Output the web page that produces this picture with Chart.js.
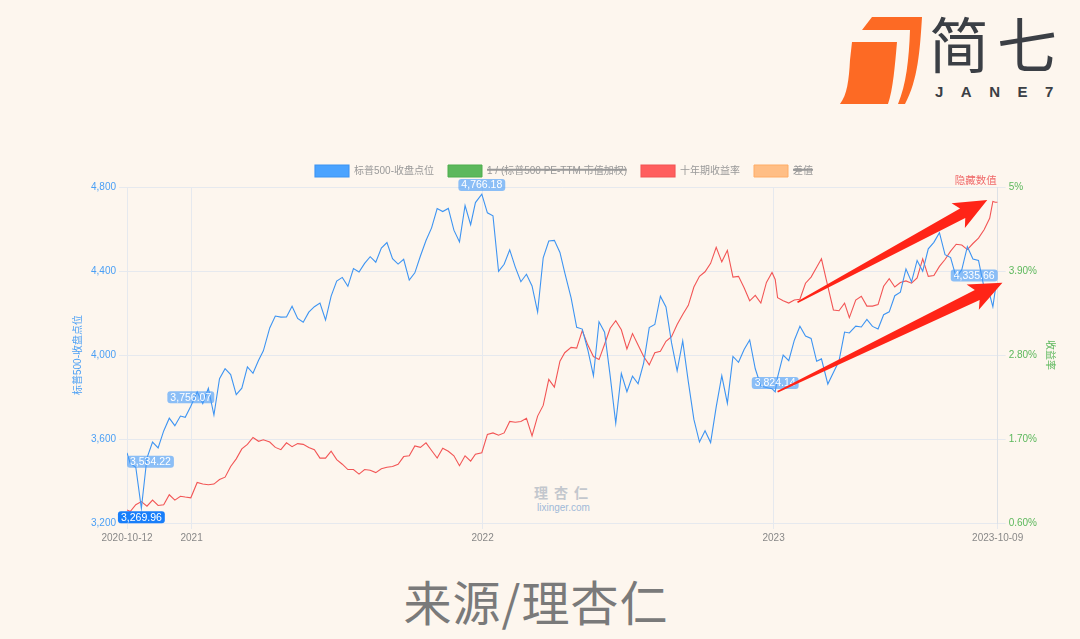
<!DOCTYPE html>
<html><head><meta charset="utf-8">
<script src="https://cdn.jsdelivr.net/npm/chart.js@4.4.0/dist/chart.umd.min.js"></script>
<style>
html,body{margin:0;padding:0;background:#fdf6ee;width:1080px;height:639px;overflow:hidden;}
#c{position:absolute;left:0;top:0;z-index:2;}
.abs{position:absolute;white-space:nowrap;}
#brand{left:929px;top:12px;font-family:'Noto Sans CJK SC',sans-serif;font-size:60px;line-height:60px;font-weight:400;color:#3b3f45;letter-spacing:8px;}
#brand2{left:935px;top:84px;font-family:'Liberation Sans',Arial,sans-serif;font-size:15px;line-height:15px;font-weight:700;color:#3b3f45;letter-spacing:17.5px;}
#wm1{left:534px;top:484px;font-family:'Noto Sans CJK SC',sans-serif;font-size:14px;line-height:16px;font-weight:700;color:#c3c7cd;letter-spacing:6px;z-index:1;}
#wm2{left:537px;top:503px;font-family:'Liberation Sans',Arial,sans-serif;font-size:10px;line-height:10px;color:#9fb9d8;z-index:1;}
#source{left:0;width:1072px;text-align:center;top:574px;font-family:'Noto Sans CJK SC',sans-serif;font-size:48px;line-height:52px;color:#7a7a7a;letter-spacing:1px;}
</style></head><body>
<svg class="abs" style="left:0;top:0" width="1080" height="639">
  <path d="M872 17 L922 17 C920 50 918 80 905 104 L898 104 C906 85 909 60 910 30 L862 30 Z" fill="#fd6a24"/>
  <path d="M852 42 L897 42 C895 65 893 90 888 104 L840 104 C847 95 849 80 850 60 Z" fill="#fd6a24"/>
</svg>
<div id="brand" class="abs">简七</div>
<div id="brand2" class="abs">JANE7</div>
<div id="wm1" class="abs">理杏仁</div>
<div id="wm2" class="abs">lixinger.com</div>
<div id="source" class="abs">来源/理杏仁</div>
<canvas id="c" width="1080" height="639"></canvas>
<script>
// ---------------- data ----------------
const dates = [
'2020-10-12','2020-10-16','2020-10-23','2020-10-30','2020-11-06','2020-11-13','2020-11-20','2020-11-27','2020-12-04','2020-12-11','2020-12-18','2020-12-24','2020-12-31',
'2021-01-08','2021-01-15','2021-01-22','2021-01-29','2021-02-05','2021-02-12','2021-02-19','2021-02-26','2021-03-05','2021-03-12','2021-03-19','2021-03-26',
'2021-04-01','2021-04-09','2021-04-16','2021-04-23','2021-04-30','2021-05-07','2021-05-14','2021-05-21','2021-05-28','2021-06-04','2021-06-11','2021-06-18','2021-06-25',
'2021-07-02','2021-07-09','2021-07-16','2021-07-23','2021-07-30','2021-08-06','2021-08-13','2021-08-20','2021-08-27','2021-09-03','2021-09-10','2021-09-17','2021-09-24',
'2021-10-01','2021-10-08','2021-10-15','2021-10-22','2021-10-29','2021-11-05','2021-11-12','2021-11-19','2021-11-26','2021-12-03','2021-12-10','2021-12-17','2021-12-23','2021-12-31',
'2022-01-07','2022-01-14','2022-01-21','2022-01-28','2022-02-04','2022-02-11','2022-02-18','2022-02-25','2022-03-04','2022-03-11','2022-03-18','2022-03-25',
'2022-04-01','2022-04-08','2022-04-14','2022-04-22','2022-04-29','2022-05-06','2022-05-13','2022-05-20','2022-05-27','2022-06-03','2022-06-10','2022-06-17','2022-06-24',
'2022-07-01','2022-07-08','2022-07-15','2022-07-22','2022-07-29','2022-08-05','2022-08-12','2022-08-19','2022-08-26','2022-09-02','2022-09-09','2022-09-16','2022-09-23','2022-09-30',
'2022-10-07','2022-10-14','2022-10-21','2022-10-28','2022-11-04','2022-11-11','2022-11-18','2022-11-25','2022-12-02','2022-12-09','2022-12-16','2022-12-23','2022-12-30',
'2023-01-03','2023-01-06','2023-01-13','2023-01-20','2023-01-27','2023-02-03','2023-02-10','2023-02-17','2023-02-24','2023-03-02','2023-03-10','2023-03-17','2023-03-24','2023-03-31',
'2023-04-06','2023-04-14','2023-04-21','2023-04-28','2023-05-05','2023-05-12','2023-05-19','2023-05-26','2023-06-02','2023-06-09','2023-06-16','2023-06-23','2023-06-30',
'2023-07-07','2023-07-14','2023-07-21','2023-07-28','2023-08-04','2023-08-11','2023-08-18','2023-08-25','2023-09-01','2023-09-08','2023-09-15','2023-09-22','2023-09-29',
'2023-10-03','2023-10-06','2023-10-09'
];
const spxClose = [
3534.22,3483.81,3465.39,3269.96,3509.44,3585.15,3557.54,3638.35,3699.12,3663.46,3709.41,3703.06,3756.07,
3824.68,3768.25,3841.47,3714.24,3886.83,3934.83,3906.71,3811.15,3841.94,3943.34,3913.10,3974.54,
4019.87,4128.80,4185.47,4180.17,4181.17,4232.60,4173.85,4155.86,4204.11,4229.89,4247.44,4166.45,4280.70,
4352.34,4369.55,4327.16,4411.79,4395.26,4436.52,4468.00,4441.67,4509.37,4535.43,4458.58,4432.99,4455.48,
4357.04,4391.34,4471.37,4544.90,4605.38,4697.53,4682.85,4697.96,4594.62,4538.43,4712.02,4620.64,4725.79,4766.18,
4677.03,4662.85,4397.94,4431.85,4500.53,4418.64,4348.87,4384.65,4328.87,4204.31,4463.12,4543.06,
4545.86,4488.28,4392.59,4271.78,4131.93,4123.34,4023.89,3901.36,4158.24,4108.54,3900.86,3674.84,3911.74,
3825.33,3899.38,3863.16,3961.63,4130.29,4145.19,4280.15,4228.48,4057.66,3924.26,4067.36,3873.33,3693.23,3585.62,
3639.66,3583.07,3752.75,3901.06,3770.55,3992.93,3965.34,4026.12,4071.70,3934.38,3852.36,3844.82,3839.50,
3824.14,3895.08,3999.09,3972.61,4070.56,4136.48,4090.46,4079.09,3970.04,3981.35,3861.59,3916.64,3970.99,4109.31,
4105.02,4137.64,4133.52,4169.48,4136.25,4124.08,4191.98,4205.45,4282.37,4298.86,4409.59,4348.33,4450.38,
4398.95,4505.42,4536.34,4582.23,4478.03,4464.05,4369.71,4405.71,4515.77,4457.49,4450.32,4320.06,4288.05,
4229.45,4308.50,4335.66
];
const tenYearYield = [
0.77,0.75,0.84,0.88,0.82,0.90,0.83,0.84,0.97,0.90,0.95,0.94,0.93,
1.13,1.11,1.10,1.11,1.17,1.20,1.34,1.44,1.57,1.63,1.72,1.67,
1.69,1.66,1.59,1.56,1.65,1.60,1.64,1.63,1.59,1.56,1.45,1.45,1.54,
1.43,1.37,1.30,1.30,1.24,1.30,1.29,1.26,1.31,1.33,1.34,1.37,1.47,
1.48,1.61,1.59,1.65,1.55,1.45,1.58,1.54,1.48,1.35,1.48,1.41,1.50,1.52,
1.76,1.78,1.75,1.78,1.93,1.92,1.93,1.97,1.74,2.00,2.14,2.48,
2.38,2.72,2.83,2.90,2.89,3.12,2.93,2.78,2.74,2.94,3.15,3.25,3.13,
2.88,3.08,2.93,2.78,2.67,2.83,2.85,2.98,3.04,3.20,3.33,3.45,3.69,3.83,
3.89,4.00,4.21,4.02,4.17,3.82,3.83,3.68,3.51,3.58,3.48,3.75,3.88,
3.79,3.55,3.51,3.48,3.52,3.53,3.74,3.82,3.95,4.06,3.70,3.39,3.38,3.48,
3.29,3.52,3.57,3.44,3.44,3.46,3.70,3.80,3.69,3.75,3.77,3.74,3.81,
4.06,3.83,3.84,3.96,4.05,4.16,4.25,4.24,4.18,4.26,4.33,4.44,4.59,
4.81,4.80,4.80
];
const seriesNames = ['标普500-收盘点位','1 / (标普500 PE-TTM 市值加权)','十年期收益率','差值'];
const tickDates = ['2020-10-12','2021-01-01','2022-01-01','2023-01-01','2023-10-09'];
const tickLabels = ['2020-10-12','2021','2022','2023','2023-10-09'];
const leftTicks = [3200,3600,4000,4400,4800];
const rightTicks = [0.6,1.7,2.8,3.9,5.0];
const markDates = ['2020-10-12','2020-10-30','2020-12-31','2021-12-31','2023-01-03','2023-10-09'];
const arrowPoints = [
  {from:['2023-01-31',3.49], to:['2023-09-26',4.83], axis:'yR'},
  {from:['2023-01-06',3825], to:['2023-10-15',4344], axis:'y'}
];

// ---------------- helpers / styles ----------------
const DAY = 86400000;
const t0 = Date.parse(dates[0]);
const dayOf = d => (Date.parse(d) - t0) / DAY;
const FONT = "'Liberation Sans', 'Noto Sans CJK SC', Arial, sans-serif";
const BLUE = '#3d94f2', RED = '#f25555', GREEN = '#5cb85c', ORANGE = '#ffbe85';
const GRID = '#e6e9ee';
const markStyle = {
  '2020-10-12': {pos:'below', solid:false, align:'start'},
  '2020-10-30': {pos:'below', solid:true, align:'center'},
  '2020-12-31': {pos:'above', solid:false, align:'center'},
  '2021-12-31': {pos:'above', solid:false, align:'center'},
  '2023-01-03': {pos:'above', solid:false, align:'center'},
  '2023-10-09': {pos:'above', solid:false, align:'end'}
};

const spxData = dates.map((d,i)=>({x:dayOf(d), y:spxClose[i]}));
const yieldData = dates.map((d,i)=>({x:dayOf(d), y:tenYearYield[i]}));

const markPlugin = {
  id:'marks',
  afterDatasetsDraw(chart){
    const {ctx} = chart;
    const xs = chart.scales.x, ys = chart.scales.y;
    ctx.save();
    ctx.font = '10.5px ' + FONT;
    ctx.textAlign = 'center'; ctx.textBaseline = 'middle';
    markDates.forEach(d=>{
      const i = dates.indexOf(d);
      const v = spxClose[i];
      const txt = v.toLocaleString('en-US',{minimumFractionDigits:2, maximumFractionDigits:2});
      const px = xs.getPixelForValue(dayOf(d)), py = ys.getPixelForValue(v);
      const st = markStyle[d];
      const w = ctx.measureText(txt).width + 6, h = 12;
      const cx = st.align === 'start' ? px + w/2 : st.align === 'end' ? px - w/2 : px;
      const cy = st.pos === 'above' ? py - 9 : py + 9;
      ctx.fillStyle = st.solid ? 'rgba(24,126,250,1)' : 'rgba(70,155,250,0.62)';
      ctx.beginPath();
      ctx.roundRect(cx - w/2, cy - h/2, w, h, 3);
      ctx.fill();
      ctx.fillStyle = '#fff';
      ctx.fillText(txt, cx, cy + 0.5);
    });
    ctx.restore();
  }
};

const extrasPlugin = {
  id:'extras',
  afterDraw(chart){
    const {ctx, chartArea:a} = chart;
    const xs = chart.scales.x;
    ctx.save();
    ctx.font = '10.5px ' + FONT;
    ctx.fillStyle = '#f06a6a';
    ctx.textAlign = 'right'; ctx.textBaseline = 'middle';
    ctx.fillText('隐藏数值', a.right - 1, a.top - 6);
    ctx.fillStyle = '#ff2417';
    arrowPoints.forEach(ar=>{
      const sc = chart.scales[ar.axis];
      const x1 = xs.getPixelForValue(dayOf(ar.from[0])), y1 = sc.getPixelForValue(ar.from[1]);
      const x2 = xs.getPixelForValue(dayOf(ar.to[0])), y2 = sc.getPixelForValue(ar.to[1]);
      const ang = Math.atan2(y2-y1, x2-x1);
      const len = Math.hypot(x2-x1, y2-y1);
      const headL = 33, headW = 14, shaftW = 5.5, tailW = 0.8;
      ctx.save();
      ctx.translate(x1, y1); ctx.rotate(ang);
      ctx.beginPath();
      ctx.moveTo(0, -tailW);
      ctx.lineTo(len - headL + 5, -shaftW);
      ctx.lineTo(len - headL, -headW);
      ctx.lineTo(len, 0);
      ctx.lineTo(len - headL, headW);
      ctx.lineTo(len - headL + 5, shaftW);
      ctx.lineTo(0, tailW);
      ctx.closePath();
      ctx.fill();
      ctx.restore();
    });
    ctx.restore();
  }
};

new Chart(document.getElementById('c'), {
  type:'line',
  data:{
    datasets:[
      {label:seriesNames[0], data:spxData, yAxisID:'y', borderColor:BLUE, backgroundColor:'rgba(64,158,255,0.95)', borderWidth:1.1, pointRadius:0, tension:0},
      {label:seriesNames[1], data:[], yAxisID:'yR', hidden:true, borderColor:'#4cae4c', backgroundColor:GREEN, borderWidth:1},
      {label:seriesNames[2], data:yieldData, yAxisID:'yR', borderColor:RED, backgroundColor:'rgba(255,85,85,0.95)', borderWidth:1.1, pointRadius:0, tension:0},
      {label:seriesNames[3], data:[], yAxisID:'yR', hidden:true, borderColor:'#ffad66', backgroundColor:ORANGE, borderWidth:1}
    ]
  },
  options:{
    responsive:false, animation:false,
    layout:{padding:{left:68, right:20, top:151, bottom:92}},
    plugins:{
      legend:{position:'top', labels:{boxWidth:34, boxHeight:12, padding:14, color:'#999', font:{size:10, family:FONT}}},
      tooltip:{enabled:false}
    },
    scales:{
      x:{type:'linear', min:0, max:dayOf(dates[dates.length-1]),
         afterBuildTicks:ax=>{ax.ticks = tickDates.map(d=>({value:dayOf(d)}));},
         ticks:{autoSkip:false, maxRotation:0, color:'#888', font:{size:10, family:FONT}, padding:3,
                callback:(v)=>{const i = tickDates.findIndex(d=>Math.abs(dayOf(d)-v)<0.01); return i>=0?tickLabels[i]:'';}},
         grid:{color:GRID, tickLength:6}, border:{color:GRID}},
      y:{position:'left', min:3200, max:4800,
         afterBuildTicks:ax=>{ax.ticks = leftTicks.map(v=>({value:v}));},
         ticks:{color:'#4a9ff5', font:{size:10, family:FONT}, padding:3, callback:v=>v.toLocaleString('en-US')},
         grid:{color:GRID, tickLength:8}, border:{color:GRID},
         title:{display:true, text:seriesNames[0], color:'#4a9ff5', font:{size:10, family:FONT}}},
      yR:{position:'right', min:0.6, max:5,
         afterBuildTicks:ax=>{ax.ticks = rightTicks.map(v=>({value:v}));},
         ticks:{color:'#5cb85c', font:{size:10, family:FONT}, padding:3, callback:v=>Math.abs(v-5)<1e-6?'5%':v.toFixed(2)+'%'},
         grid:{drawOnChartArea:false, color:GRID, tickLength:8}, border:{color:'#dde1e6'},
         title:{display:true, text:'收益率', color:'#5cb85c', font:{size:10, family:FONT}}}
    }
  },
  plugins:[markPlugin, extrasPlugin]
});
</script>
</body></html>
